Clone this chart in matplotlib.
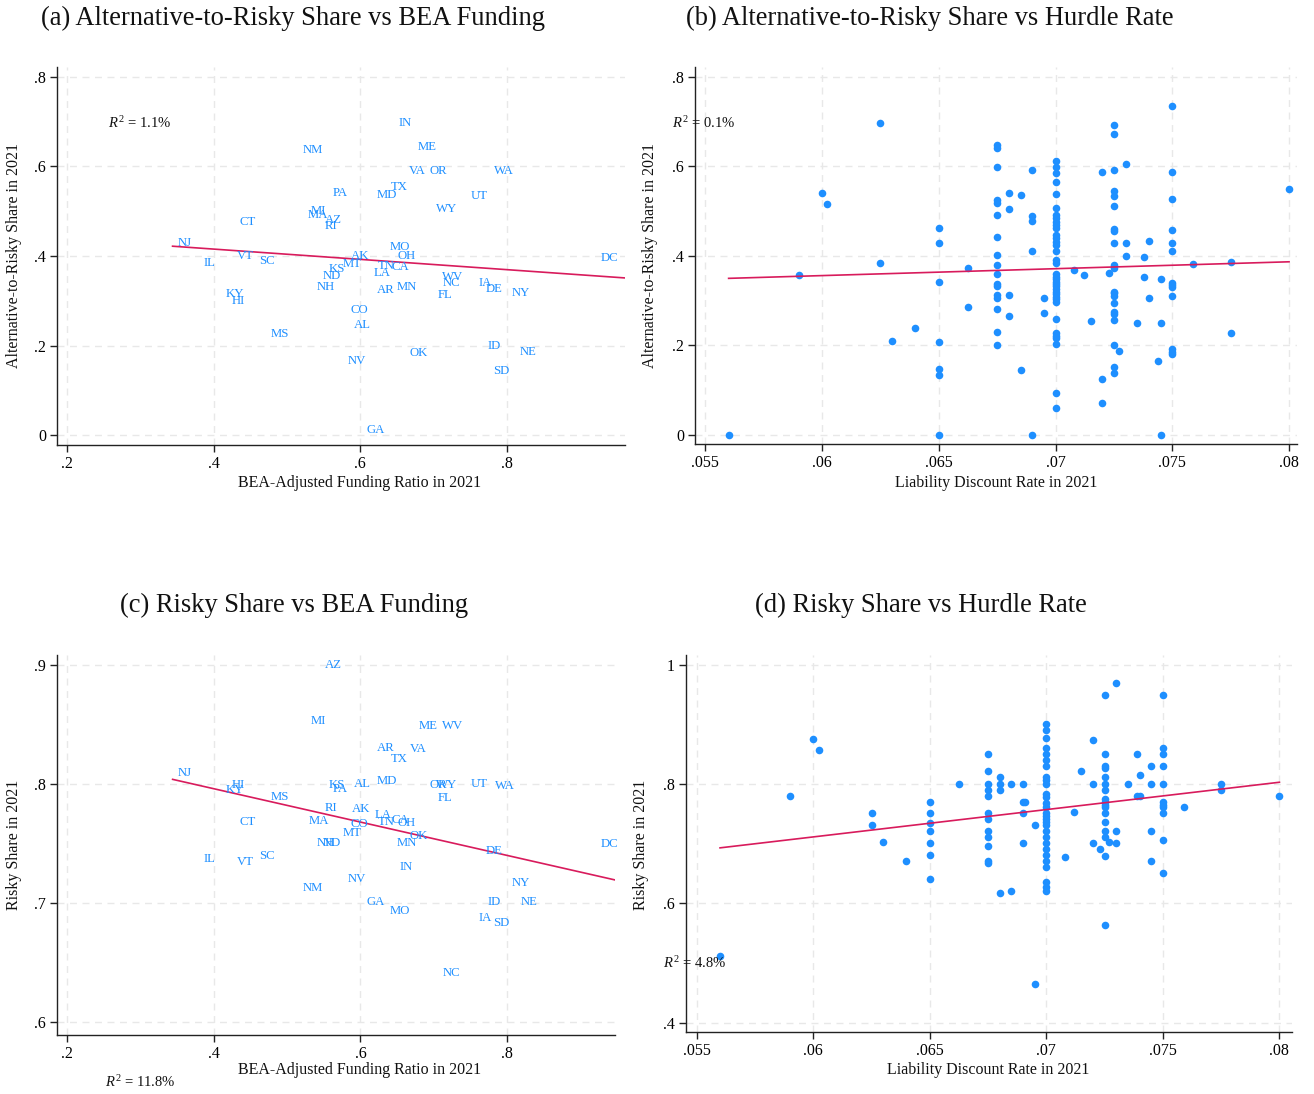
import numpy as np
import matplotlib
matplotlib.use("Agg")
import matplotlib.pyplot as plt
from matplotlib.ticker import FuncFormatter

plt.rcParams["font.family"] = ["Liberation Serif", "DejaVu Serif"]
plt.rcParams["mathtext.fontset"] = "custom"
plt.rcParams["mathtext.rm"] = "Liberation Serif"
plt.rcParams["mathtext.it"] = "Liberation Serif:italic"

# ---- state-level data (2021) ----
states = ["NJ", "IL", "VT", "SC", "CT", "KY", "HI", "MS", "NM", "PA",
          "MI", "MA", "AZ", "RI", "KS", "MT", "AK", "ND", "NH", "CO",
          "AL", "NV", "GA", "IN", "ME", "VA", "OR", "WA", "TX", "MD",
          "UT", "WY", "MO", "OH", "TN", "CA", "LA", "AR", "MN", "WV",
          "NC", "FL", "IA", "DE", "NY", "OK", "ID", "NE", "SD", "DC"]
funding_ratio = [0.344, 0.379, 0.425, 0.455, 0.429, 0.409, 0.418, 0.471, 0.515, 0.556,
                 0.526, 0.522, 0.545, 0.544, 0.550, 0.569, 0.581, 0.542, 0.534, 0.580,
                 0.584, 0.576, 0.602, 0.646, 0.672, 0.660, 0.687, 0.776, 0.635, 0.615,
                 0.744, 0.696, 0.633, 0.644, 0.617, 0.636, 0.612, 0.616, 0.643, 0.705,
                 0.705, 0.699, 0.754, 0.764, 0.800, 0.660, 0.767, 0.811, 0.774, 0.921]
alt_share = [0.430, 0.384, 0.400, 0.389, 0.477, 0.315, 0.300, 0.226, 0.637, 0.540,
             0.500, 0.492, 0.480, 0.466, 0.372, 0.382, 0.399, 0.356, 0.331, 0.279,
             0.246, 0.166, 0.011, 0.697, 0.644, 0.590, 0.591, 0.591, 0.555, 0.537,
             0.535, 0.504, 0.419, 0.399, 0.378, 0.376, 0.363, 0.323, 0.331, 0.352,
             0.340, 0.313, 0.339, 0.326, 0.317, 0.184, 0.200, 0.186, 0.143, 0.396]
risky_share = [0.809, 0.737, 0.7345, 0.7395, 0.768, 0.795, 0.799, 0.789, 0.7126, 0.7955,
               0.853, 0.7686, 0.900, 0.780, 0.799, 0.759, 0.779, 0.7507, 0.750, 0.766,
               0.800, 0.720, 0.701, 0.730, 0.849, 0.829, 0.799, 0.798, 0.821, 0.8025,
               0.800, 0.799, 0.693, 0.767, 0.768, 0.770, 0.774, 0.830, 0.750, 0.849,
               0.641, 0.7885, 0.687, 0.744, 0.7166, 0.756, 0.701, 0.701, 0.683, 0.7496]

# ---- plan-level data: discount rate and shares, grouped by rate ----
rates_alt = [0.056, 0.059, 0.060, 0.0602, 0.0625, 0.063, 0.064, 0.065, 0.06625, 0.0675,
             0.068, 0.0685, 0.069, 0.0695, 0.070, 0.0708, 0.0712, 0.0715, 0.072, 0.0723,
             0.0725, 0.0727, 0.073, 0.0735, 0.0738, 0.074, 0.0744, 0.0745, 0.075, 0.0759,
             0.0775, 0.080]
alt_by_rate = [
    [0.0], [0.358], [0.541], [0.516], [0.697, 0.385], [0.211], [0.238],
    [0.462, 0.428, 0.343, 0.207, 0.147, 0.133, 0.0],
    [0.374, 0.287],
    [0.648, 0.642, 0.598, 0.525, 0.519, 0.492, 0.443, 0.402, 0.379, 0.359, 0.337,
     0.333, 0.312, 0.307, 0.282, 0.230, 0.201],
    [0.541, 0.505, 0.313, 0.267],
    [0.536, 0.145],
    [0.592, 0.490, 0.479, 0.411, 0.0],
    [0.307, 0.273],
    [0.613, 0.598, 0.585, 0.565, 0.539, 0.507, 0.492, 0.484, 0.477, 0.469, 0.462,
     0.447, 0.440, 0.432, 0.425, 0.412, 0.391, 0.385, 0.359, 0.354, 0.348, 0.343,
     0.337, 0.332, 0.326, 0.320, 0.314, 0.309, 0.303, 0.298, 0.259, 0.227, 0.221,
     0.216, 0.203, 0.093, 0.060],
    [0.369], [0.358], [0.255], [0.588, 0.125, 0.072], [0.361],
    [0.693, 0.673, 0.592, 0.545, 0.533, 0.512, 0.460, 0.456, 0.428, 0.380, 0.374,
     0.320, 0.317, 0.311, 0.295, 0.274, 0.270, 0.256, 0.200, 0.153, 0.139],
    [0.188], [0.606, 0.430, 0.399], [0.250], [0.397, 0.352], [0.434, 0.307],
    [0.166], [0.349, 0.250, 0.0],
    [0.735, 0.588, 0.528, 0.457, 0.428, 0.411, 0.339, 0.335, 0.331, 0.311, 0.192,
     0.186, 0.181],
    [0.381], [0.387, 0.227], [0.550],
]

rates_risky = [0.056, 0.059, 0.060, 0.06026, 0.0625, 0.063, 0.064, 0.065, 0.06627, 0.0675,
               0.068, 0.0685, 0.069, 0.0691, 0.0695, 0.070, 0.0708, 0.0712, 0.0715, 0.072,
               0.0723, 0.0725, 0.0727, 0.073, 0.0735, 0.0739, 0.074, 0.0745, 0.075, 0.0759,
               0.0775, 0.080]
risky_by_rate = [
    [0.512], [0.780], [0.875], [0.8575], [0.751, 0.731], [0.703], [0.671],
    [0.770, 0.751, 0.735, 0.721, 0.701, 0.681, 0.641],
    [0.800],
    [0.850, 0.821, 0.800, 0.790, 0.780, 0.751, 0.741, 0.721, 0.711, 0.696, 0.671, 0.667],
    [0.811, 0.800, 0.790, 0.618],
    [0.800, 0.621],
    [0.800, 0.770, 0.751, 0.701],
    [0.770],
    [0.731, 0.465],
    [0.9006, 0.8905, 0.8776, 0.860, 0.850, 0.840, 0.830, 0.811, 0.806, 0.800, 0.783,
     0.778, 0.768, 0.761, 0.751, 0.746, 0.741, 0.736, 0.731, 0.721, 0.711, 0.701,
     0.691, 0.681, 0.671, 0.661, 0.636, 0.628, 0.621],
    [0.678], [0.7525], [0.821], [0.874, 0.800, 0.701], [0.691],
    [0.950, 0.850, 0.830, 0.826, 0.811, 0.800, 0.790, 0.775, 0.770, 0.765, 0.761,
     0.751, 0.736, 0.721, 0.711, 0.679, 0.564],
    [0.703], [0.970, 0.721, 0.701], [0.800], [0.850, 0.780], [0.8156, 0.780],
    [0.830, 0.800, 0.721, 0.671],
    [0.950, 0.860, 0.850, 0.830, 0.800, 0.770, 0.765, 0.761, 0.751, 0.706, 0.651],
    [0.761], [0.800, 0.790], [0.780],
]

# linear-fit coefficients (intercept, slope) and R-squared for panels a-d
fit_intercepts = [0.4614, 0.2637, 0.8521, 0.4363]
fit_slopes = [-0.1149, 1.5417, -0.1402, 4.583]
r2_labels = ["1.1%", "0.1%", "11.8%", "4.8%"]

LABEL_BLUE = "#1E8FFF"
FIT_RED = "#D81B5C"
GRID = "#E8E8E8"

W, H = 1314, 1094
fig = plt.figure(figsize=(W / 100, H / 100), dpi=100)


def px_axes(left, right, top, bottom):
    return fig.add_axes([left / W, 1 - bottom / H, (right - left) / W, (bottom - top) / H])


def px_text(x, y, s, **kw):
    return fig.text(x / W, 1 - y / H, s, **kw)


def stata_fmt(v, _pos=None):
    v = round(v, 6)
    if v == 0:
        return "0"
    s = f"{v:g}"
    if s.startswith("0."):
        s = s[1:]
    return s


def style(ax, xticks, yticks, xlim, ylim):
    ax.set_xlim(xlim)
    ax.set_ylim(ylim)
    ax.set_xticks(xticks)
    ax.set_yticks(yticks)
    ax.xaxis.set_major_formatter(FuncFormatter(stata_fmt))
    ax.yaxis.set_major_formatter(FuncFormatter(stata_fmt))
    for s in ("top", "right"):
        ax.spines[s].set_visible(False)
    for s in ("left", "bottom"):
        ax.spines[s].set_linewidth(1.0)
        ax.spines[s].set_color("#222222")
    ax.tick_params(direction="out", length=5, width=1.0, labelsize=11.5, pad=3,
                   color="#222222")
    ax.grid(True, color=GRID, linestyle=(0, (5, 4)), linewidth=1.0)
    ax.set_axisbelow(True)


def fit_line(ax, i, x, x_end=None):
    x = np.asarray(x, float)
    x0 = x.min()
    x1 = x.max() if x_end is None else x_end
    xs = np.array([x0, x1])
    ax.plot(xs, fit_intercepts[i] + fit_slopes[i] * xs, color=FIT_RED,
            linewidth=1.2, zorder=3)


def state_labels(ax, x, y):
    for st, xv, yv in zip(states, x, y):
        t = ax.annotate(st, (xv, yv), xytext=(3.6, 0), textcoords="offset points",
                        ha="left", va="center", fontsize=9.2, color=LABEL_BLUE, zorder=4)
        t.set_clip_on(True)


def expand(rates, groups):
    xs, ys = [], []
    for r, g in zip(rates, groups):
        xs.extend([r] * len(g))
        ys.extend(g)
    return xs, ys


fund_ticks = [0.2, 0.4, 0.6, 0.8]
rate_ticks = [0.055, 0.06, 0.065, 0.07, 0.075, 0.08]

# (a) alternative share vs funding
ax_a = px_axes(57, 625, 67, 445)
style(ax_a, fund_ticks, [0, 0.2, 0.4, 0.6, 0.8], (0.1864, 0.961), (-0.0223, 0.8223))
state_labels(ax_a, funding_ratio, alt_share)
fit_line(ax_a, 0, funding_ratio, x_end=ax_a.get_xlim()[1])

# (b) alternative share vs discount rate
ax_b = px_axes(695, 1297, 67, 444)
style(ax_b, rate_ticks, [0, 0.2, 0.4, 0.6, 0.8], (0.05456, 0.08034), (-0.0201, 0.8223))
bx, by = expand(rates_alt, alt_by_rate)
ax_b.scatter(bx, by, s=30, color=LABEL_BLUE, linewidths=0, zorder=3)
fit_line(ax_b, 1, bx)

# (c) risky share vs funding
ax_c = px_axes(57, 615, 655, 1035)
style(ax_c, fund_ticks, [0.6, 0.7, 0.8, 0.9], (0.1864, 0.947), (0.589, 0.9084))
state_labels(ax_c, funding_ratio, risky_share)
fit_line(ax_c, 2, funding_ratio, x_end=ax_c.get_xlim()[1])

# (d) risky share vs discount rate
ax_d = px_axes(686, 1292, 655, 1032)
style(ax_d, rate_ticks, [0.4, 0.6, 0.8, 1.0], (0.05454, 0.08054), (0.3842, 1.0163))
dx, dy = expand(rates_risky, risky_by_rate)
ax_d.scatter(dx, dy, s=30, color=LABEL_BLUE, linewidths=0, zorder=3)
fit_line(ax_d, 3, dx)

# panel titles
title_kw = dict(ha="center", va="center", fontsize=19.1, color="#111111")
px_text(293, 18, "(a) Alternative-to-Risky Share vs BEA Funding", **title_kw)
px_text(930, 18, "(b) Alternative-to-Risky Share vs Hurdle Rate", **title_kw)
px_text(294, 605, "(c) Risky Share vs BEA Funding", **title_kw)
px_text(921, 605, "(d) Risky Share vs Hurdle Rate", **title_kw)

# axis titles
lab_kw = dict(ha="center", va="center", fontsize=11.5, color="#111111")
px_text(360, 483, "BEA-Adjusted Funding Ratio in 2021", **lab_kw)
px_text(996, 483, "Liability Discount Rate in 2021", **lab_kw)
px_text(360, 1070, "BEA-Adjusted Funding Ratio in 2021", **lab_kw)
px_text(988, 1070, "Liability Discount Rate in 2021", **lab_kw)
px_text(14, 256, "Alternative-to-Risky Share in 2021", rotation=90, **lab_kw)
px_text(650, 256, "Alternative-to-Risky Share in 2021", rotation=90, **lab_kw)
px_text(14, 845, "Risky Share in 2021", rotation=90, **lab_kw)
px_text(641, 845, "Risky Share in 2021", rotation=90, **lab_kw)

# R-squared annotations
r2_kw = dict(ha="left", va="center", fontsize=10.5, color="#111111", zorder=5)
for (xp, yp), r2 in zip([(108, 123), (672, 123), (105, 1082), (663, 963)], r2_labels):
    px_text(xp, yp, r"$R^2$ = " + r2, **r2_kw)

fig.savefig("out.png", dpi=100, facecolor="white")
